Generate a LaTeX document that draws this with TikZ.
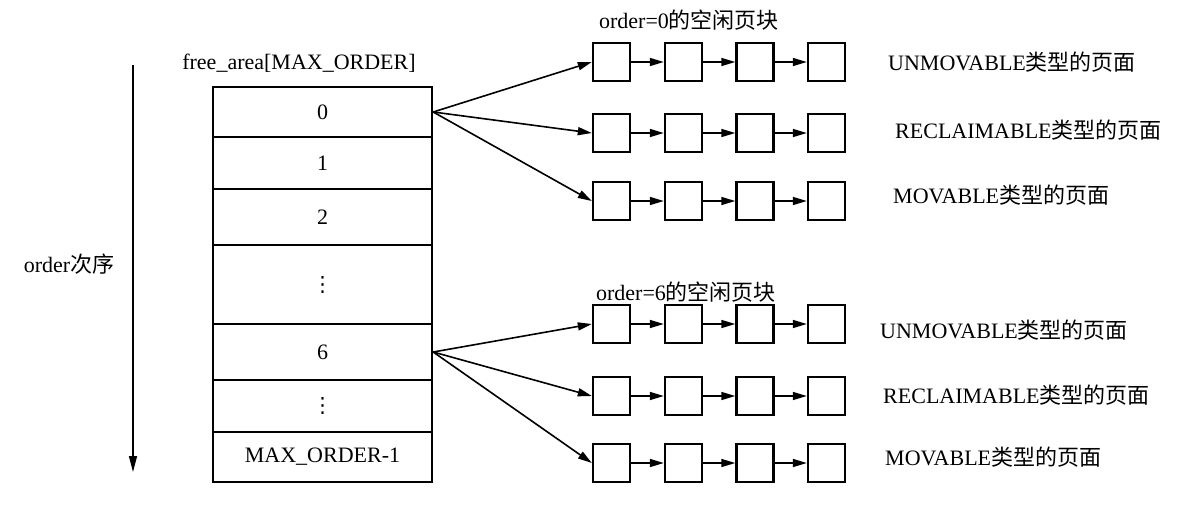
\documentclass[tikz,border=0pt]{standalone}
\usepackage{fontspec}
\setmainfont{Liberation Serif}
\newfontfamily\cjk{Noto Sans CJK SC}
\newfontfamily\symf{DejaVu Sans}
\usetikzlibrary{arrows.meta}
\begin{document}
\begin{tikzpicture}[x=1pt,y=-1pt,
  font=\fontsize{22}{26}\selectfont,
  rowbox/.style={draw, line width=2.4pt, minimum width=219pt, inner sep=0pt},
  pagebox/.style={draw, line width=2.4pt, minimum width=37pt, minimum height=38pt, inner sep=0pt},
  conn/.style={line width=1.6pt, -{Triangle[length=14pt,width=8pt]}},
  axis/.style={line width=1.5pt, -{Triangle[length=16pt,width=8pt]}},
  dotsf/.style={font=\symf\fontsize{21}{24}\selectfont},
  lbl/.style={anchor=west, inner sep=0pt}]
\useasboundingbox (0,0) rectangle (1180,504);
% table
\node[rowbox, minimum height=50pt] (r0) at (322.5,112) {0};
\node[rowbox, minimum height=52pt] (r1) at (322.5,163) {1};
\node[rowbox, minimum height=56pt] (r2) at (322.5,217) {2};
\node[rowbox, dotsf, minimum height=79pt] (rd1) at (322.5,284.5) {⋮};
\node[rowbox, minimum height=56pt] (r6) at (322.5,352) {6};
\node[rowbox, dotsf, minimum height=52pt] (rd2) at (322.5,406) {⋮};
\node[rowbox, minimum height=50pt] (rmax) at (322.5,457) {MAX\_ORDER-1};
\node (title) at (299,63) {free\_area[MAX\_ORDER]};
% order axis
\coordinate (ot) at (133,65);
\coordinate (ob) at (133,472);
\draw[axis] (ot) -- (ob);
\node (ol) at (69,264) {order{\cjk 次序}};
% page block lists
\node (h0) at (689,20) {order=0{\cjk 的空闲页块}};
\node (h6) at (686,292) {order=6{\cjk 的空闲页块}};
\foreach \g/\ya/\yb/\yc in {0/62/133/201, 6/324/396/463} {
  \foreach \r/\y in {1/\ya,2/\yb,3/\yc} {
    \foreach \c/\x in {1/611.5,2/683.5,3/755,4/826.5} {
      \node[pagebox] (b\g\r\c) at (\x,\y) {};
    }
    \foreach \c/\n in {1/2,2/3,3/4} {
      \draw[conn] (b\g\r\c.east) -- (b\g\r\n.west);
    }
  }
}
\foreach \r in {1,2,3} {
  \draw[conn] (r0.east) -- (b0\r1.west);
  \draw[conn] (r6.east) -- (b6\r1.west);
}
% type labels
\node[lbl] (t01) at (888,62) {UNMOVABLE{\cjk 类型的页面}};
\node[lbl] (t02) at (895,130) {RECLAIMABLE{\cjk 类型的页面}};
\node[lbl] (t03) at (893,195) {MOVABLE{\cjk 类型的页面}};
\node[lbl] (t61) at (880,330) {UNMOVABLE{\cjk 类型的页面}};
\node[lbl] (t62) at (883,395) {RECLAIMABLE{\cjk 类型的页面}};
\node[lbl] (t63) at (885,457) {MOVABLE{\cjk 类型的页面}};
\end{tikzpicture}
\end{document}
